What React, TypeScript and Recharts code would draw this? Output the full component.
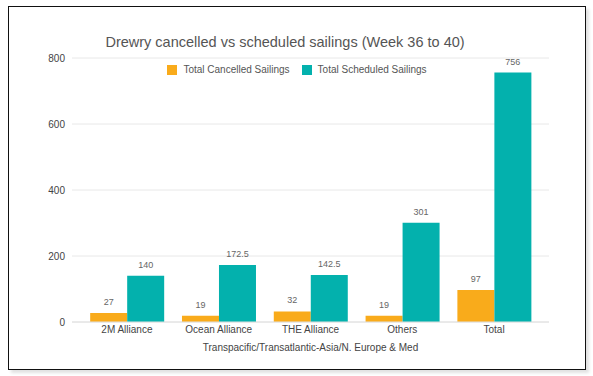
import { BarChart, Bar, XAxis, YAxis, CartesianGrid, Legend, LabelList } from 'recharts';

const categories = ['2M Alliance', 'Ocean Alliance', 'THE Alliance', 'Others', 'Total'];
const cancelled = [27, 19, 32, 19, 97];
const scheduled = [140, 172.5, 142.5, 301, 756];
const yTicks = [0, 200, 400, 600, 800];

const ORANGE = '#f9ab1b';
const TEAL = '#03b1ad';
const FONT = '"Liberation Sans", Arial, sans-serif';

const data = categories.map((name, i) => ({
  name,
  cancelled: cancelled[i],
  scheduled: scheduled[i],
}));

const legendItems = [
  { label: 'Total Cancelled Sailings', color: ORANGE },
  { label: 'Total Scheduled Sailings', color: TEAL },
];

const LegendContent = () => (
  <div style={{ display: 'flex', justifyContent: 'center', paddingLeft: 12, fontFamily: FONT, fontSize: 10, color: '#555' }}>
    {legendItems.map((item) => (
      <div key={item.label} style={{ display: 'flex', alignItems: 'center', marginRight: 12 }}>
        <span style={{ display: 'inline-block', width: 10, height: 10, background: item.color, marginRight: 6 }} />
        <span>{item.label}</span>
      </div>
    ))}
  </div>
);

export default function App() {
  return (
    <div
      style={{
        position: 'absolute',
        left: 8,
        top: 6,
        width: 576,
        height: 362,
        border: '1px solid #111',
        background: '#fff',
        boxShadow: '3px 3px 3px rgba(0,0,0,0.12)',
        fontFamily: FONT,
      }}
    >
      <div
        style={{
          position: 'absolute',
          left: 0,
          width: 552,
          top: 27,
          textAlign: 'center',
          fontSize: 14.5,
          color: '#555',
          zIndex: 2,
        }}
      >
        Drewry cancelled vs scheduled sailings (Week 36 to 40)
      </div>
      <BarChart
        width={576}
        height={362}
        data={data}
        margin={{ top: 51, right: 36, left: 0, bottom: 17 }}
        barCategoryGap="10%"
        barGap={0}
      >
        <CartesianGrid vertical={false} stroke="#e8e8e8" />
        <XAxis
          dataKey="name"
          padding={{ left: 9, right: 9 }}
          axisLine={{ stroke: '#e0e0e0' }}
          tickLine={false}
          tickSize={0}
          tickMargin={4}
          height={30}
          tick={{ fontSize: 10, fill: '#444', fontFamily: FONT }}
          label={{
            value: 'Transpacific/Transatlantic-Asia/N. Europe & Med',
            position: 'insideBottom',
            offset: 1,
            fontSize: 10,
            fill: '#444',
            fontFamily: FONT,
          }}
        />
        <YAxis
          width={63}
          domain={[0, 800]}
          ticks={yTicks}
          axisLine={false}
          tickLine={false}
          tickSize={0}
          tickMargin={7}
          tick={{ fontSize: 10, fill: '#444', fontFamily: FONT }}
        />
        <Legend
          verticalAlign="middle"
          align="center"
          content={<LegendContent />}
          wrapperStyle={{ top: 57, left: 0, width: 576 }}
        />
        <Bar dataKey="cancelled" name="Total Cancelled Sailings" fill={ORANGE} isAnimationActive={false}>
          <LabelList dataKey="cancelled" position="top" offset={8} fill="#666" fontSize={9} fontFamily={FONT} />
        </Bar>
        <Bar dataKey="scheduled" name="Total Scheduled Sailings" fill={TEAL} isAnimationActive={false}>
          <LabelList dataKey="scheduled" position="top" offset={8} fill="#666" fontSize={9} fontFamily={FONT} />
        </Bar>
      </BarChart>
    </div>
  );
}
